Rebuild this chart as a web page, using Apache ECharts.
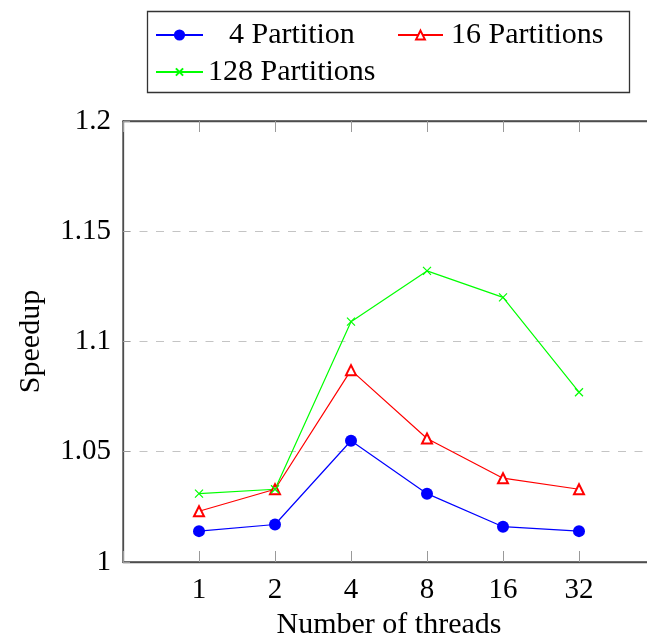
<!DOCTYPE html>
<html>
<head>
<meta charset="utf-8">
<script src="https://cdn.jsdelivr.net/npm/echarts@6/dist/echarts.min.js"></script>
<style>
html,body{margin:0;padding:0;background:#fff;}
#c{width:647px;height:639px;}
</style>
</head>
<body>
<div id="c"></div>
<script>
var categories = ['1', '2', '4', '8', '16', '32'];
var p4 = [1.014, 1.017, 1.055, 1.031, 1.016, 1.014];
var p16 = [1.023, 1.033, 1.087, 1.056, 1.038, 1.033];
var p128 = [1.031, 1.033, 1.109, 1.132, 1.120, 1.077];
var yTicks = [1, 1.05, 1.1, 1.15, 1.2];

function pts(arr) { return arr.map(function (v, i) { return [i + 1, v]; }); }

var FONT = 'Liberation Serif';
var axisColor = '#4d4d4d';
var tickColor = '#9a9a9a';

var chart = echarts.init(document.getElementById('c'), null, {renderer: 'canvas'});
chart.setOption({
  animation: false,
  backgroundColor: '#fff',
  grid: {left: 123, top: 121, width: 532, height: 441, show: true, borderColor: axisColor, borderWidth: 1.3,
    backgroundColor: 'transparent', containLabel: false, outerBoundsMode: 'none'},
  xAxis: [{
    type: 'value', min: 0, max: 7, interval: 1, position: 'bottom',
    name: 'Number of threads', nameLocation: 'middle', nameGap: 48,
    nameTextStyle: {fontFamily: FONT, fontSize: 30, color: '#000'},
    axisLine: {show: true, onZero: false, lineStyle: {color: axisColor, width: 1.3}},
    axisTick: {show: true, inside: true, length: 11, lineStyle: {color: tickColor, width: 1}},
    axisLabel: {margin: 14, fontFamily: FONT, fontSize: 29, color: '#000',
      formatter: function (v) { return (v >= 1 && v <= categories.length && v === Math.round(v)) ? categories[v - 1] : ''; }},
    splitLine: {show: false}
  }, {
    type: 'value', min: 0, max: 7, interval: 1, position: 'top',
    axisLine: {show: true, onZero: false, lineStyle: {color: axisColor, width: 1.3}},
    axisTick: {show: true, inside: true, length: 11, lineStyle: {color: tickColor, width: 1}},
    axisLabel: {show: false},
    splitLine: {show: false}
  }],
  yAxis: {
    type: 'value', min: yTicks[0], max: yTicks[yTicks.length - 1], interval: 0.05,
    name: 'Speedup', nameLocation: 'middle', nameGap: 77,
    nameTextStyle: {fontFamily: FONT, fontSize: 30, color: '#000'},
    axisLine: {show: true, onZero: false, lineStyle: {color: axisColor, width: 1.3}},
    axisTick: {show: true, inside: true, length: 7, lineStyle: {color: tickColor, width: 1}},
    axisLabel: {margin: 12, fontFamily: FONT, fontSize: 29, color: '#000',
      formatter: function (v) { return String(+v.toFixed(2)); }},
    splitLine: {show: true, lineStyle: {color: '#c4c4c4', width: 1, type: [8, 8.5]}}
  },
  legend: [{
    data: ['4 Partition'], left: 155, top: 20, padding: 0, itemWidth: 47, itemHeight: 14,
    textStyle: {fontFamily: FONT, fontSize: 30, color: '#000', padding: [0, 0, 0, 21]}
  }, {
    data: ['16 Partitions'], left: 397, top: 20, padding: 0, itemWidth: 45, itemHeight: 11,
    textStyle: {fontFamily: FONT, fontSize: 30, color: '#000', padding: [0, 0, 0, 3]}
  }, {
    data: ['128 Partitions'], left: 155, top: 57, padding: 0, itemWidth: 47, itemHeight: 9,
    textStyle: {fontFamily: FONT, fontSize: 30, color: '#000'}
  }],
  graphic: [{
    type: 'rect', shape: {x: 147.5, y: 11.5, width: 482, height: 81},
    style: {fill: 'none', stroke: '#333', lineWidth: 1.3}, z: 100
  }],
  series: [{
    name: '4 Partition', type: 'line', data: pts(p4),
    symbol: 'circle', symbolSize: 12,
    lineStyle: {color: '#0000ff', width: 1.2},
    itemStyle: {color: '#0000ff'}
  }, {
    name: '16 Partitions', type: 'line', data: pts(p16),
    symbol: 'emptyTriangle', symbolSize: 10,
    lineStyle: {color: '#ff0000', width: 1.2},
    itemStyle: {color: '#ff0000', borderColor: '#ff0000', borderWidth: 1.2}
  }, {
    name: '128 Partitions', type: 'line', data: pts(p128),
    symbol: 'path://M0,0L10,10M10,0L0,10', symbolSize: 8,
    lineStyle: {color: '#00ff00', width: 1.2},
    itemStyle: {color: '#00ff00', borderColor: '#00ff00', borderWidth: 1.2}
  }]
});
</script>
</body>
</html>
